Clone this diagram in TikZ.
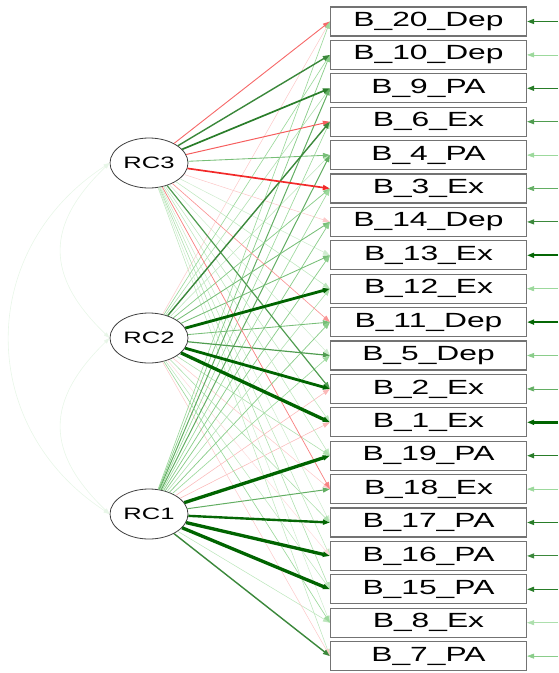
\documentclass[tikz,border=0pt]{standalone}
\usepackage{fontspec}
\setmainfont{Liberation Sans}
\newfontfamily\widefont[FakeStretch=1.55]{Liberation Sans}
\usetikzlibrary{arrows.meta,shapes.geometric}
\definecolor{posgreen}{RGB}{0,100,0}
\definecolor{midgreen}{RGB}{20,165,20}
\definecolor{negred}{RGB}{240,0,0}

\begin{document}
\begin{tikzpicture}[x=1pt,y=-1pt,
        factor/.style={ellipse, draw=black!75, line width=0.8pt, fill=white, minimum width=78pt, minimum height=50pt, inner sep=0pt, font=\widefont\fontsize{16.5}{17}\selectfont},
        item/.style={rectangle, draw=black!55, line width=1.2pt, fill=white, minimum width=196pt, minimum height=29pt, inner sep=0pt, font=\widefont\fontsize{20.5}{21}\selectfont},
        load/.style={-{Triangle[length=7pt,width=5pt]}},
        corr/.style={{Triangle[length=6pt,width=4pt]}-{Triangle[length=6pt,width=4pt]}, line width=0.6pt, midgreen!10!white}
    ]
        \useasboundingbox (0,0) rectangle (558,673);

        % Factors
        \node[factor] (rc3) at (149,163) {RC3};
        \node[factor] (rc2) at (149,338) {RC2};
        \node[factor] (rc1) at (149,514) {RC1};

        % Items
        \foreach \n/\lab [count=\k from 0] in {b20/B\_20\_Dep, b10/B\_10\_Dep, b9/B\_9\_PA, b6/B\_6\_Ex,
                b4/B\_4\_PA, b3/B\_3\_Ex, b14/B\_14\_Dep, b13/B\_13\_Ex, b12/B\_12\_Ex, b11/B\_11\_Dep,
                b5/B\_5\_Dep, b2/B\_2\_Ex, b1/B\_1\_Ex, b19/B\_19\_PA, b18/B\_18\_Ex, b17/B\_17\_PA,
                b16/B\_16\_PA, b15/B\_15\_PA, b8/B\_8\_Ex, b7/B\_7\_PA}{
            \node[item] (\n) at (428.5, 21.5+33.4*\k) {\lab};
            \coordinate (\n-res) at (558, 21.5+33.4*\k);
        }

        % Correlations between factors
        \draw[corr] (rc3.west) .. controls (45,225) and (45,276) .. (rc2.west);
        \draw[corr] (rc2.west) .. controls (45,401) and (45,452) .. (rc1.west);
        \draw[corr] (rc3.west) .. controls (-24,250) and (-24,427) .. (rc1.west);

        % Loadings, weak ones first
        \def\loadings{rc3/b20/-0.42, rc2/b20/-0.15, rc1/b20/0.3,
            rc3/b10/0.55, rc2/b10/0.3, rc1/b10/0.35,
            rc3/b9/0.6, rc2/b9/0.25, rc1/b9/0.45,
            rc3/b6/-0.45, rc2/b6/0.55, rc1/b6/0.3,
            rc3/b4/0.4, rc2/b4/0.2, rc1/b4/0.45,
            rc3/b3/-0.6, rc2/b3/0.35, rc1/b3/0.3,
            rc3/b14/-0.15, rc2/b14/0.4, rc1/b14/0.35,
            rc3/b13/0.15, rc2/b13/0.4, rc1/b13/0.35,
            rc3/b12/0.2, rc2/b12/0.75, rc1/b12/0.25,
            rc3/b11/-0.3, rc2/b11/0.4, rc1/b11/0.35,
            rc3/b5/0.15, rc2/b5/0.5, rc1/b5/0.3,
            rc3/b2/0.5, rc2/b2/0.75, rc1/b2/-0.2,
            rc3/b1/0.2, rc2/b1/0.8, rc1/b1/-0.2,
            rc3/b19/0.2, rc2/b19/0.25, rc1/b19/0.8,
            rc3/b18/-0.35, rc2/b18/-0.15, rc1/b18/0.45,
            rc3/b17/0.15, rc2/b17/0.25, rc1/b17/0.7,
            rc3/b16/0.2, rc2/b16/-0.1, rc1/b16/0.8,
            rc3/b15/0.25, rc2/b15/0.2, rc1/b15/0.8,
            rc3/b8/0.15, rc2/b8/0.3, rc1/b8/0.2,
            rc3/b7/0.2, rc2/b7/-0.15, rc1/b7/0.55}
        \foreach \pass in {1,2,3}{
            \foreach \f/\t/\w in \loadings{
                \pgfmathsetmacro\a{abs(\w)}
                \pgfmathtruncatemacro\lvl{\a<0.3 ? 1 : (\a<0.55 ? 2 : 3)}
                \ifnum\lvl=\pass
                    \pgfmathsetmacro\p{min(100,140*\a)}
                    \pgfmathsetmacro\q{min(100,max(0,400*(\a-0.3)))}
                    \pgfmathsetmacro\lw{0.5+5.5*\a*\a*\a}
                    \ifdim\w pt<0pt
                        \draw[load, line width=\lw pt, color=negred!\p!white] (\f) -- (\t.west);
                    \else
                        \draw[load, line width=\lw pt, color=posgreen!\q!midgreen!\p!white] (\f) -- (\t.west);
                    \fi
                \fi
            }
        }

        % Residuals
        \foreach \n/\w in {b20/0.6, b10/0.3, b9/0.6, b6/0.5, b4/0.3, b3/0.45, b14/0.55, b13/0.7,
                b12/0.3, b11/0.7, b5/0.35, b2/0.45, b1/0.85, b19/0.6, b18/0.3, b17/0.6,
                b16/0.55, b15/0.6, b8/0.25, b7/0.35}{
            \pgfmathsetmacro\p{min(100,140*\w)}
            \pgfmathsetmacro\q{min(100,max(0,400*(\w-0.3)))}
            \pgfmathsetmacro\lw{0.4+4*\w*\w*\w}
            \draw[load, line width=\lw pt, color=posgreen!\q!midgreen!\p!white] (\n-res) -- (\n.east);
        }
    \end{tikzpicture}
\end{document}
